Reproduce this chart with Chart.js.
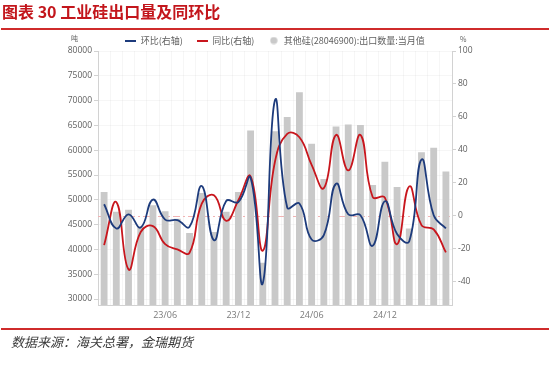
<!DOCTYPE html>
<html>
<head>
<meta charset="utf-8">
<script src="https://cdn.jsdelivr.net/npm/chart.js@4/dist/chart.umd.min.js"></script>
<style>
  html, body { margin: 0; padding: 0; background: #fff; }
  #wrap { position: relative; width: 550px; height: 369px; overflow: hidden; }
  #chart { position: absolute; left: 0; top: 0; }
  .title { position: absolute; left: 2px; top: 1px; font: bold 16px "Noto Sans CJK SC", sans-serif; color: #c3161c; line-height: 21px; white-space: nowrap; }
  .rule { position: absolute; left: 1px; width: 548px; height: 2px; background: #cf2b2b; }
  .source { position: absolute; left: 11px; top: 333px; font: italic 13px "Noto Sans CJK SC", serif; color: #3a3a3a; line-height: 18px; white-space: nowrap; }
</style>
</head>
<body>
<div id="wrap">
  <canvas id="chart" width="550" height="369"></canvas>
  <div class="title">图表 30 工业硅出口量及同环比</div>
  <div class="rule" style="top:28px"></div>
  <div class="rule" style="top:328px"></div>
  <div class="source">数据来源：海关总署，金瑞期货</div>
</div>
<script>
const months = ['23/01','23/02','23/03','23/04','23/05','23/06','23/07','23/08','23/09','23/10','23/11','23/12',
                '24/01','24/02','24/03','24/04','24/05','24/06','24/07','24/08','24/09','24/10','24/11','24/12',
                '25/01','25/02','25/03','25/04','25/05'];
// 出口数量 (吨)
const exportVolume = [51600, 47600, 48000, 44600, 48900, 47700, 46200, 43300, 51400, 43500, 47600, 51600,
                      64000, 37300, 63800, 66700, 71700, 61300, 54200, 64800, 65200, 65100, 53000, 57700,
                      52600, 44200, 59600, 60500, 55700];
// 环比 (%)
const momPct = [7.1, -7.6, 1.0, -7.0, 9.9, -2.2, -2.6, -6.6, 18.1, -14.7, 9.1, 8.4,
                23.2, -40.8, 70.2, 5.1, 7.5, -14.3, -11.6, 19.5, 1.0, 0.4, -18.1, 8.9,
                -11.0, -15.3, 34.2, 0.4, -7.6];
// 同比 (%)
const yoyPct = [-17.7, 8.4, -32.4, -9.7, -6.2, -17.1, -20.3, -22.3, 7.5, 12.5, -3.0, 9.5,
                24.0, -21.1, 33.0, 49.7, 47.7, 31.0, 16.9, 49.1, 27.6, 49.1, 11.5, 11.1,
                -17.1, 17.9, -5.6, -8.2, -22.1];
const shownMonthLabels = ['23/06', '23/12', '24/06', '24/12'];
const leftTicks = [30000, 35000, 40000, 45000, 50000, 55000, 60000, 65000, 70000, 75000, 80000];
const rightTicks = [-40, -20, 0, 20, 40, 60, 80, 100];

const BLUE = '#1d3b7c';
const RED = '#c8161d';
const GREY_BAR = '#c9c9c9';
const AXIS = '#d2d2d2';
const TEXT = '#5f5f5f';

// small legend symbols
function lineSymbol(color) {
    const c = document.createElement('canvas');
    c.width = 11; c.height = 2;
    const g = c.getContext('2d');
    g.fillStyle = color; g.fillRect(0, 0, 11, 2);
    return c;
}
function dotSymbol(color) {
    const c = document.createElement('canvas');
    c.width = 8; c.height = 8;
    const g = c.getContext('2d');
    g.fillStyle = color; g.beginPath(); g.arc(4, 4, 3.6, 0, Math.PI * 2); g.fill();
    return c;
}

const legendHeight = {
    id: 'legendHeight',
    beforeInit(chart) {
        const fit = chart.legend.fit;
        chart.legend.fit = function () {
            fit.bind(chart.legend)();
            this.height = 29;
        };
    }
};

const decor = {
    id: 'decor',
    beforeDatasetsDraw(chart) {
        // zero reference line on right axis
        const { ctx, chartArea } = chart;
        const y0 = chart.scales.y1.getPixelForValue(0);
        ctx.save();
        ctx.strokeStyle = '#f1b3b3';
        ctx.lineWidth = 1;
        ctx.setLineDash([7, 3, 2, 3]);
        ctx.beginPath();
        ctx.moveTo(chartArea.left, Math.round(y0) + 0.5);
        ctx.lineTo(chartArea.right, Math.round(y0) + 0.5);
        ctx.stroke();
        ctx.restore();
    },
    afterDraw(chart) {
        const { ctx, chartArea } = chart;
        ctx.save();
        ctx.fillStyle = TEXT;
        ctx.font = '7px "Noto Sans CJK SC", sans-serif';
        ctx.textBaseline = 'middle';
        ctx.textAlign = 'left';
        ctx.fillText('吨', chartArea.left - 27, chartArea.top - 13);
        ctx.fillText('%', chartArea.right + 8, chartArea.top - 12);
        ctx.restore();
    }
};

new Chart(document.getElementById('chart'), {
    data: {
        labels: months,
        datasets: [
            {
                type: 'line', label: '环比(右轴)', data: momPct, yAxisID: 'y1',
                borderColor: BLUE, backgroundColor: BLUE, borderWidth: 1.8,
                pointRadius: 0, tension: 0.45, pointStyle: lineSymbol(BLUE), order: 1
            },
            {
                type: 'line', label: '同比(右轴)', data: yoyPct, yAxisID: 'y1',
                borderColor: RED, backgroundColor: RED, borderWidth: 1.8,
                pointRadius: 0, tension: 0.45, pointStyle: lineSymbol(RED), order: 2
            },
            {
                type: 'bar', label: '其他硅(28046900):出口数量:当月值', data: exportVolume, yAxisID: 'y',
                backgroundColor: GREY_BAR, borderWidth: 0,
                barPercentage: 0.56, categoryPercentage: 1.0, pointStyle: dotSymbol(GREY_BAR), order: 3
            }
        ]
    },
    options: {
        responsive: false, animation: false,
        layout: { padding: { top: 22, left: 0, right: 0, bottom: 0 } },
        plugins: {
            title: { display: false },
            tooltip: { enabled: false },
            legend: {
                position: 'top', align: 'center',
                labels: {
                    usePointStyle: true, pointStyleWidth: 11, boxHeight: 8, padding: 14,
                    color: TEXT, font: { size: 9, family: '"Noto Sans CJK SC", sans-serif' }
                }
            }
        },
        scales: {
            x: {
                offset: true,
                grid: { color: 'rgba(0,0,0,0.035)', drawTicks: false, offset: true },
                border: { color: AXIS },
                ticks: {
                    autoSkip: false, maxRotation: 0, padding: 5, color: '#7a7a7a',
                    font: { size: 9, family: '"Open Sans", sans-serif' },
                    callback: function (value) {
                        const lbl = this.getLabelForValue(value);
                        return shownMonthLabels.includes(lbl) ? lbl : '';
                    }
                },
                afterFit: s => { s.height = 64; }
            },
            y: {
                position: 'left', min: 28800, max: 80000,
                afterBuildTicks: axis => { axis.ticks = leftTicks.map(v => ({ value: v })); },
                ticks: {
                    padding: 2, color: TEXT,
                    font: { size: 8.5, family: '"Open Sans", sans-serif' },
                    callback: v => String(v)
                },
                grid: { color: 'rgba(0,0,0,0.035)', tickColor: AXIS, tickLength: 4 },
                border: { color: AXIS },
                afterFit: s => { s.width = 98; }
            },
            y1: {
                position: 'right', min: -54, max: 100,
                afterBuildTicks: axis => { axis.ticks = rightTicks.map(v => ({ value: v })); },
                ticks: {
                    padding: 2, color: TEXT,
                    font: { size: 8.5, family: '"Open Sans", sans-serif' }
                },
                grid: { drawOnChartArea: false, tickColor: AXIS, tickLength: 4 },
                border: { color: AXIS },
                afterFit: s => { s.width = 98; }
            }
        }
    },
    plugins: [legendHeight, decor]
});
</script>
</body>
</html>
